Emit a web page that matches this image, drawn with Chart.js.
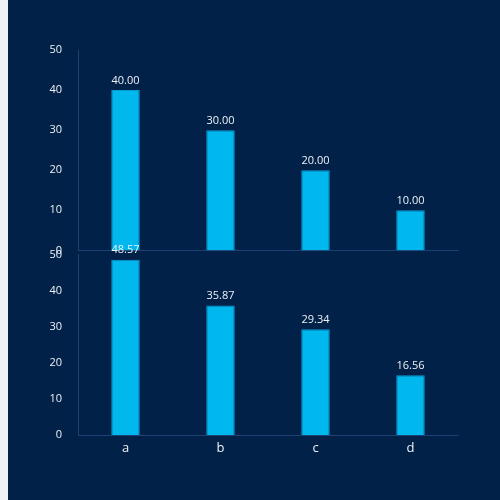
<!DOCTYPE html>
<html>
<head>
<meta charset="utf-8">
<script src="https://cdn.jsdelivr.net/npm/chart.js@4"></script>
<style>
  html, body { margin: 0; padding: 0; }
  body { width: 500px; height: 500px; background: #012148; position: relative; overflow: hidden; }
  #strip { position: absolute; left: 0; top: 0; width: 8px; height: 500px; background: #eff1f7; }
  .box { position: absolute; left: 0; width: 500px; }
  #topBox { top: 0; height: 265px; }
  #bottomBox { top: 240px; height: 260px; }
</style>
</head>
<body>
<div id="strip"></div>
<div class="box" id="topBox"><canvas id="topChart"></canvas></div>
<div class="box" id="bottomBox"><canvas id="bottomChart"></canvas></div>
<script>
// Two stacked bar panels sharing the same categories.
const categories = ["a", "b", "c", "d"];
const topValues = [40, 30, 20, 10];
const bottomValues = [48.57, 35.87, 29.34, 16.56];
const yTicks = [0, 10, 20, 30, 40, 50];

const BAR = "#00b7ee";
const BAR_EDGE = "#0a9bd3";
const AXIS = "#1d3f72";
const TEXT = "#eef2f7";
const FONT = { family: "'Open Sans', 'Noto Sans', sans-serif", size: 11 };

// Value labels above each bar, two decimals.
const valueLabels = {
    id: "valueLabels",
    afterDatasetsDraw(chart) {
        const ctx = chart.ctx;
        const meta = chart.getDatasetMeta(0);
        ctx.save();
        ctx.fillStyle = TEXT;
        ctx.font = `${FONT.size}px ${FONT.family}`;
        ctx.textAlign = "center";
        ctx.textBaseline = "bottom";
        meta.data.forEach((bar, i) => {
            const v = chart.data.datasets[0].data[i];
            ctx.fillText(v.toFixed(2), bar.x, bar.y - 4);
        });
        ctx.restore();
    },
};

function makeChart(id, values, opts) {
    return new Chart(document.getElementById(id), {
        type: "bar",
        data: {
            labels: categories,
            datasets: [{
                data: values,
                backgroundColor: BAR,
                borderColor: BAR_EDGE,
                borderWidth: 1,
                barPercentage: 0.3,
                categoryPercentage: 1,
            }],
        },
        options: {
            responsive: true,
            maintainAspectRatio: false,
            animation: false,
            layout: { padding: { top: opts.padTop, right: 42, left: 0, bottom: 0 } },
            plugins: { legend: { display: false }, tooltip: { enabled: false } },
            scales: {
                x: {
                    grid: { display: false, drawTicks: false },
                    border: { display: true, color: AXIS },
                    ticks: {
                        display: opts.showX,
                        color: TEXT,
                        font: { family: FONT.family, size: 13 },
                        padding: 5,
                    },
                    afterFit: (s) => { s.height = opts.xHeight; },
                },
                y: {
                    min: 0,
                    max: 50,
                    afterBuildTicks: (s) => { s.ticks = yTicks.map((v) => ({ value: v })); },
                    grid: { display: false },
                    border: { display: true, color: AXIS },
                    ticks: { color: TEXT, font: FONT, padding: 8 },
                    afterFit: (s) => { s.width = 78; },
                },
            },
        },
        plugins: [valueLabels],
    });
}

makeChart("topChart", topValues, { padTop: 50, xHeight: 10, showX: false });
makeChart("bottomChart", bottomValues, { padTop: 14, xHeight: 65, showX: true });
</script>
</body>
</html>
